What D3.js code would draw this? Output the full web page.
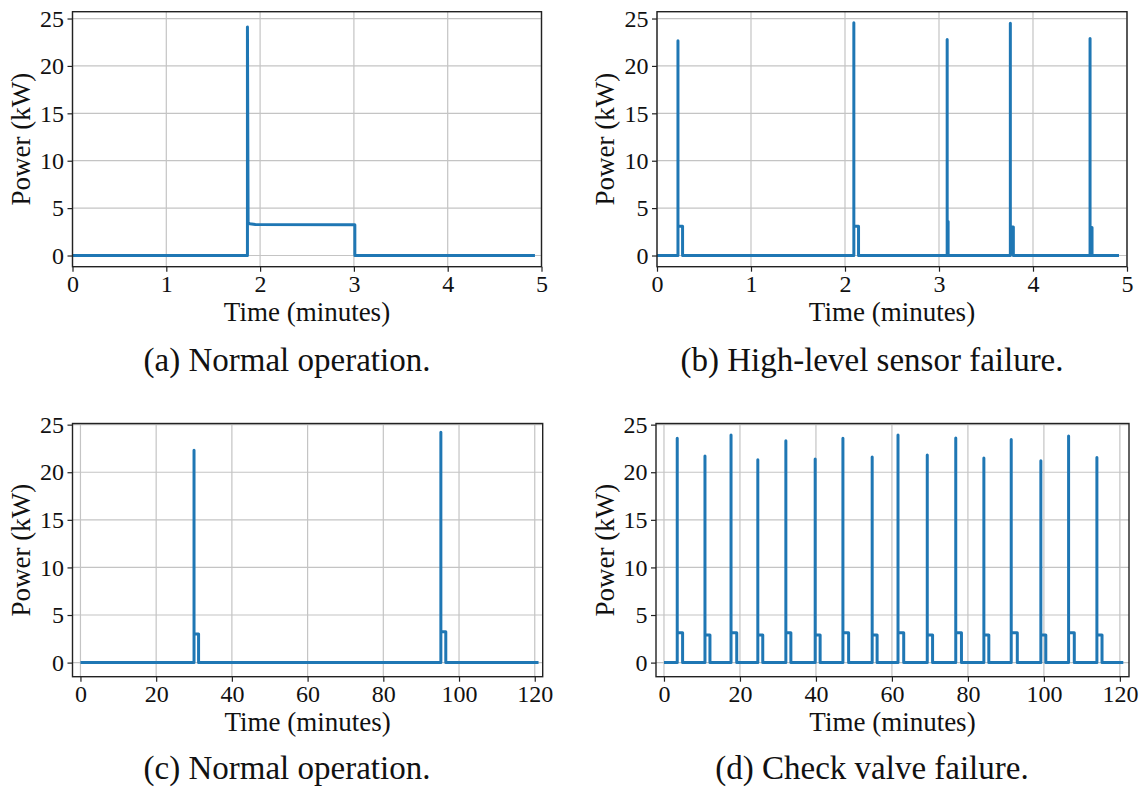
<!DOCTYPE html>
<html lang="en">
  <head>
    <meta charset="UTF-8" />
    <title>Pump power traces</title>
    <style>
      body { margin: 0; background: #fff; }
      svg text { font-family: "Liberation Serif", "Times New Roman", serif; fill: #111; }
    </style>
  </head>
  <body>
    <svg id="chart" width="1141" height="788"></svg>

    <script src="https://cdn.jsdelivr.net/npm/d3@7/dist/d3.min.js"></script>
    <script>
      // (a) normal operation, 5 min window: breakpoints of the trace
      var aTime  = [0, 1.865, 1.865, 1.872, 1.89, 1.95, 3.01, 3.01, 4.93];
      var aPower = [0, 0, 24.1, 3.46, 3.35, 3.27, 3.25, 0, 0];

      // (b) high-level sensor failure: pump start / stop times (min), peak and running power (kW)
      var bOn    = [0.223, 2.094, 3.087, 3.759, 4.607];
      var bOff   = [0.272, 2.144, 3.097, 3.791, 4.628];
      var bPeak  = [22.66, 24.56, 22.8, 24.5, 22.9];
      var bLevel = [3.1, 3.1, 3.6, 3.0, 2.95];
      var bEnd   = 4.915;

      // (c) normal operation, 2 h window
      var cOn    = [30.0, 95.2];
      var cOff   = [31.2, 96.5];
      var cPeak  = [22.3, 24.2];
      var cLevel = [3.0, 3.25];
      var cEnd   = 121.0;

      // (d) check valve failure
      var dOn    = [3.49, 10.79, 17.65, 24.7, 32.08, 39.8, 47.1, 54.8, 61.6, 69.3, 76.8, 84.2, 91.4, 99.2, 106.5, 113.95];
      var dOff   = [4.9, 12.1, 19.15, 26.0, 33.4, 41.1, 48.6, 56.1, 63.1, 70.7, 78.3, 85.5, 93.0, 100.5, 108.0, 115.3];
      var dPeak  = [23.56, 21.7, 23.9, 21.3, 23.3, 21.4, 23.56, 21.6, 23.9, 21.8, 23.6, 21.5, 23.45, 21.2, 23.8, 21.55];
      var dLevel = [3.15, 2.9, 3.15, 2.9, 3.15, 2.9, 3.15, 2.9, 3.15, 2.9, 3.15, 2.9, 3.15, 2.9, 3.15, 2.9];
      var dEnd   = 120.9;

      var shortTicks = [0, 1, 2, 3, 4, 5];
      var longTicks  = [0, 20, 40, 60, 80, 100, 120];
      var powerTicks = [0, 5, 10, 15, 20, 25];

      var xLabel = "Time (minutes)";
      var yLabel = "Power (kW)";
      var captions = ["(a) Normal operation.", "(b) High-level sensor failure.",
                      "(c) Normal operation.", "(d) Check valve failure."];

      // turn start/stop events into a step trace
      function steps(on, off, peak, level, end) {
        var pts = [[0, 0]];
        on.forEach(function(t, i) {
          pts.push([t, 0], [t, peak[i]], [t, level[i]], [off[i], level[i]], [off[i], 0]);
        });
        pts.push([end, 0]);
        return pts;
      }

      var panels = [
        { left: 72.5, right: 541.5, top: 11.7, bottom: 266.7,
          xDom: [0, 5], yDom: [-1.18, 25.72], xTicks: shortTicks,
          pts: aTime.map(function(t, i) { return [t, aPower[i]]; }),
          capX: 287, capY: 371, yLabX: 30 },
        { left: 657, right: 1127, top: 11.7, bottom: 266.7,
          xDom: [0, 5], yDom: [-1.18, 25.72], xTicks: shortTicks,
          pts: steps(bOn, bOff, bPeak, bLevel, bEnd),
          capX: 872, capY: 371, yLabX: 614 },
        { left: 72.5, right: 542.7, top: 423.5, bottom: 676.7,
          xDom: [-2.1, 122.1], yDom: [-1.48, 25.12], xTicks: longTicks,
          pts: steps(cOn, cOff, cPeak, cLevel, cEnd),
          capX: 287, capY: 779, yLabX: 30 },
        { left: 656, right: 1129, top: 423.5, bottom: 676.7,
          xDom: [-2.1, 122.4], yDom: [-1.48, 25.12], xTicks: longTicks,
          pts: steps(dOn, dOff, dPeak, dLevel, dEnd),
          capX: 872, capY: 779, yLabX: 614 }
      ];

      var svg = d3.select("#chart");
      svg.append("rect").attr("width", 1141).attr("height", 788).attr("fill", "#fff");

      panels.forEach(function(p, k) {
        var x = d3.scaleLinear().domain(p.xDom).range([p.left, p.right]);
        var y = d3.scaleLinear().domain(p.yDom).range([p.bottom, p.top]);
        var g = svg.append("g");

        // grid
        g.selectAll(".vgrid")
         .data(p.xTicks)
         .enter()
         .append("line")
         .attr("x1", function(d) { return x(d); })
         .attr("x2", function(d) { return x(d); })
         .attr("y1", p.top)
         .attr("y2", p.bottom)
         .attr("stroke", "#c4c4c4")
         .attr("stroke-width", 1.2);
        g.selectAll(".hgrid")
         .data(powerTicks)
         .enter()
         .append("line")
         .attr("x1", p.left)
         .attr("x2", p.right)
         .attr("y1", function(d) { return y(d); })
         .attr("y2", function(d) { return y(d); })
         .attr("stroke", "#c4c4c4")
         .attr("stroke-width", 1.2);

        // trace
        g.append("clipPath")
         .attr("id", "clip" + k)
         .append("rect")
         .attr("x", p.left).attr("y", p.top)
         .attr("width", p.right - p.left).attr("height", p.bottom - p.top);
        var line = d3.line()
                     .x(function(d) { return x(d[0]); })
                     .y(function(d) { return y(d[1]); });
        g.append("path")
         .datum(p.pts)
         .attr("clip-path", "url(#clip" + k + ")")
         .attr("d", line)
         .attr("fill", "none")
         .attr("stroke", "#1f77b4")
         .attr("stroke-width", 3)
         .attr("stroke-linejoin", "round");

        // axes
        var fmt = d3.format("d");
        var xAxis = g.append("g")
                     .attr("transform", "translate(0," + p.bottom + ")")
                     .call(d3.axisBottom(x).tickValues(p.xTicks).tickFormat(fmt).tickSize(5).tickPadding(3.5));
        var yAxis = g.append("g")
                     .attr("transform", "translate(" + p.left + ",0)")
                     .call(d3.axisLeft(y).tickValues(powerTicks).tickFormat(fmt).tickSize(5).tickPadding(3.5));
        [xAxis, yAxis].forEach(function(a) {
          a.attr("font-family", null).attr("font-size", null);
          a.select(".domain").remove();
          a.selectAll(".tick line").attr("stroke", "#222").attr("stroke-width", 1.2);
          a.selectAll(".tick text").attr("fill", "#111").style("font-size", "24px");
        });

        // spines
        g.append("rect")
         .attr("x", p.left).attr("y", p.top)
         .attr("width", p.right - p.left).attr("height", p.bottom - p.top)
         .attr("fill", "none")
         .attr("stroke", "#222")
         .attr("stroke-width", 1.4);

        g.append("text")
         .attr("x", (p.left + p.right) / 2)
         .attr("y", p.bottom + 54.5)
         .attr("text-anchor", "middle")
         .style("font-size", "27px")
         .text(xLabel);
        g.append("text")
         .attr("transform", "translate(" + p.yLabX + "," + (p.top + p.bottom) / 2 + ")rotate(-90)")
         .attr("text-anchor", "middle")
         .style("font-size", "27px")
         .text(yLabel);
        g.append("text")
         .attr("x", p.capX)
         .attr("y", p.capY)
         .attr("text-anchor", "middle")
         .style("font-size", "33px")
         .text(captions[k]);
      });
    </script>
  </body>
</html>
